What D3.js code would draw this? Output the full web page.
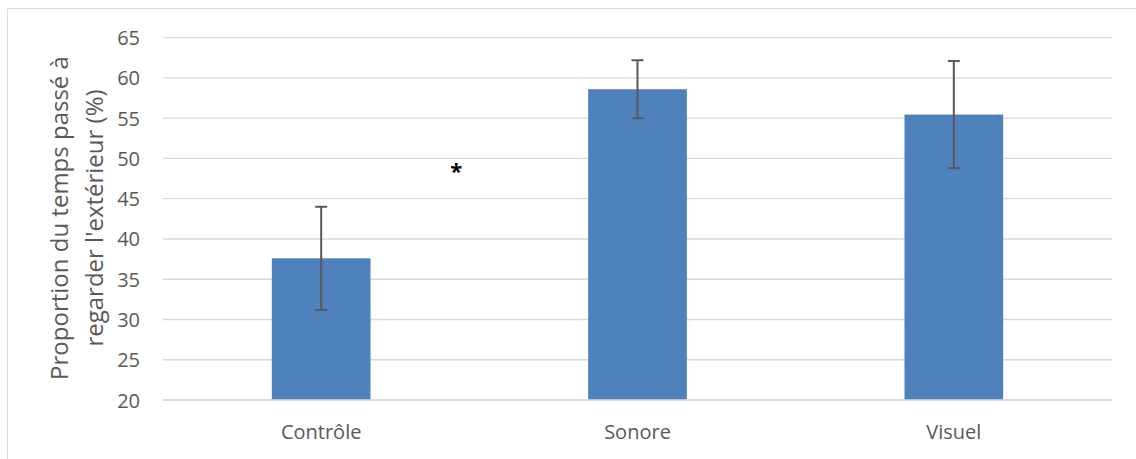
<!DOCTYPE html>
<html>
<head>
<meta charset="utf-8">
<script src="https://cdn.jsdelivr.net/npm/d3@7/dist/d3.min.js"></script>
<style>
  html, body { margin: 0; padding: 0; background: #fff; }
  svg { display: block; }
  text { font-family: "Open Sans", "Noto Sans", sans-serif; fill: #595959; }
</style>
</head>
<body>
<svg id="chart" width="1136" height="459"></svg>
<script>
const categories = ["Contrôle", "Sonore", "Visuel"];
const means = [37.6, 58.6, 55.45];
const errors = [6.4, 3.6, 6.65];
const yTicks = [20, 25, 30, 35, 40, 45, 50, 55, 60, 65];
const yTitleLines = ["Proportion du temps passé à", "regarder l'extérieur (%)"];
const significance = { label: "*", value: 49.4, between: [0, 1], offset: 0.427 };

const svg = d3.select("#chart");
const W = 1136, H = 459;

// outer frame (top and left only visible)
svg.append("line").attr("x1", 7.5).attr("x2", W).attr("y1", 8.5).attr("y2", 8.5)
  .attr("stroke", "#d9d9d9").attr("stroke-width", 1);
svg.append("line").attr("x1", 7.5).attr("x2", 7.5).attr("y1", 8.5).attr("y2", H)
  .attr("stroke", "#d9d9d9").attr("stroke-width", 1);

const x = d3.scaleBand().domain(categories).range([163, 1112]).paddingInner(0.688).paddingOuter(0.344);
const y = d3.scaleLinear().domain([20, 65]).range([400, 37.7]);

// gridlines
const grid = svg.append("g");
grid.selectAll("line").data(yTicks).join("line")
  .attr("x1", 163).attr("x2", 1112)
  .attr("y1", d => y(d)).attr("y2", d => y(d))
  .attr("stroke", "#d9d9d9").attr("stroke-width", 1.3);

// y axis
const yAxis = d3.axisLeft(y).tickValues(yTicks).tickSize(0).tickPadding(0);
const gy = svg.append("g").attr("transform", "translate(140,0)").call(yAxis);
gy.select(".domain").remove();
gy.selectAll("text").attr("font-size", 20).attr("fill", "#595959")
  .style("font-family", "'Open Sans', sans-serif").attr("dy", "0.35em").attr("x", 0);

// bars
svg.append("g").selectAll("rect").data(categories).join("rect")
  .attr("x", d => x(d)).attr("width", x.bandwidth())
  .attr("y", (d, i) => y(means[i])).attr("height", (d, i) => y(20) - y(means[i]))
  .attr("fill", "#4f81bd");

// x axis
const xAxis = d3.axisBottom(x).tickSize(0).tickPadding(0);
const gx = svg.append("g").attr("transform", "translate(0,400)").call(xAxis);
gx.select(".domain").attr("stroke", "#d9d9d9").attr("stroke-width", 1.3)
  .attr("d", "M163,0H1112");
gx.selectAll("text").attr("font-size", 20).attr("fill", "#595959")
  .style("font-family", "'Open Sans', sans-serif").attr("y", 39).attr("dy", 0);

// error bars
const eb = svg.append("g").attr("stroke", "#595959").attr("stroke-width", 2).attr("fill", "none");
categories.forEach((c, i) => {
  const cx = x(c) + x.bandwidth() / 2;
  const top = y(means[i] + errors[i]), bot = y(means[i] - errors[i]);
  eb.append("line").attr("x1", cx).attr("x2", cx).attr("y1", top).attr("y2", bot);
  eb.append("line").attr("x1", cx - 6).attr("x2", cx + 6).attr("y1", top).attr("y2", top);
  eb.append("line").attr("x1", cx - 6).attr("x2", cx + 6).attr("y1", bot).attr("y2", bot);
});

// significance asterisk
{
  const a = x(categories[significance.between[0]]) + x.bandwidth() / 2;
  const b = x(categories[significance.between[1]]) + x.bandwidth() / 2;
  svg.append("text").attr("x", a + (b - a) * significance.offset).attr("y", y(significance.value))
    .attr("text-anchor", "middle").attr("font-size", 22).attr("font-weight", "bold")
    .style("fill", "#000").attr("dy", "0.7em").text(significance.label);
}

// y title
const yt = svg.append("text").attr("transform", "translate(0,218) rotate(-90)")
  .attr("text-anchor", "middle").attr("font-size", 24);
yTitleLines.forEach((l, i) => {
  yt.append("tspan").attr("x", 0).attr("y", 68 + i * 35).text(l);
});
</script>
</body>
</html>
